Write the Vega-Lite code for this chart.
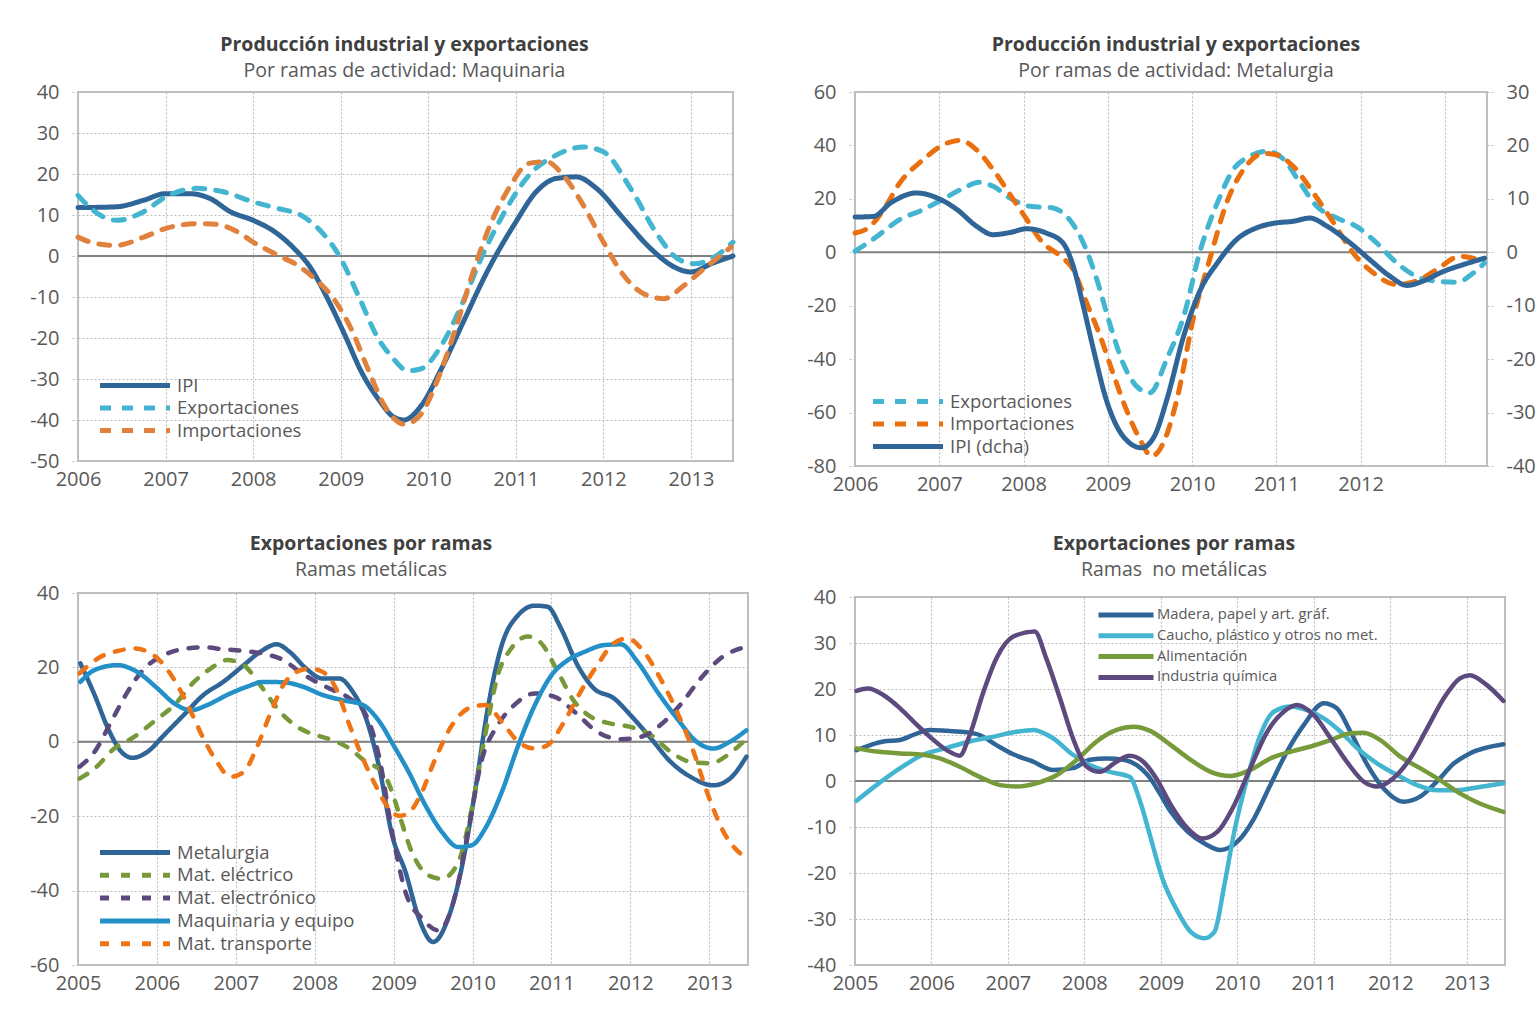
{
  "$schema": "https://vega.github.io/schema/vega-lite/v6.json",
  "background": "white",
  "padding": {"left": 28, "top": 34, "right": 5, "bottom": 5},
  "config": {
    "font": "Open Sans",
    "locale": {"number": {"decimal": ".", "thousands": ",", "grouping": [3], "currency": ["$", ""], "minus": "-"}},
    "view": {"stroke": "#bfbfbf", "strokeWidth": 2},
    "axis": {"labelFont": "Open Sans", "labelFontSize": 20, "labelColor": "#595959", "domain": false, "grid": true, "gridColor": "#bdbdbd", "gridDash": [2, 2], "gridWidth": 1.2, "tickColor": "#bdbdbd", "tickDash": [2, 2], "tickWidth": 1.2},
    "axisX": {"ticks": false, "labelPadding": 8, "labelFlush": false, "labelOverlap": false, "labelDx": 3},
    "axisY": {"tickSize": 6, "labelPadding": 13, "labelOverlap": false},
    "title": {"font": "Open Sans", "fontSize": 19.5, "fontWeight": "bold", "color": "#404040", "subtitleFont": "Open Sans", "subtitleFontSize": 19.5, "subtitleColor": "#595959", "subtitlePadding": 6, "anchor": "middle", "offset": 1},
    "legend": {"labelFont": "Open Sans", "labelColor": "#595959", "padding": 0, "labelLimit": 500},
    "line": {"interpolate": "monotone", "strokeWidth": 5, "strokeCap": "round"}
  },
  "datasets": {
    "p1": [
      {"s":"IPI","t":2006.0,"v":11.8},{"s":"IPI","t":2006.44,"v":12.0},{"s":"IPI","t":2006.75,"v":13.6},{"s":"IPI","t":2007.0,"v":15.2},{"s":"IPI","t":2007.28,"v":15.2},{"s":"IPI","t":2007.51,"v":14.0},{"s":"IPI","t":2007.74,"v":10.8},{"s":"IPI","t":2008.0,"v":8.7},{"s":"IPI","t":2008.24,"v":6.0},{"s":"IPI","t":2008.47,"v":1.8},{"s":"IPI","t":2008.66,"v":-3.0},{"s":"IPI","t":2008.85,"v":-10.4},{"s":"IPI","t":2009.05,"v":-19.4},{"s":"IPI","t":2009.24,"v":-28.4},{"s":"IPI","t":2009.43,"v":-34.9},{"s":"IPI","t":2009.6,"v":-39.2},{"s":"IPI","t":2009.72,"v":-40.0},{"s":"IPI","t":2009.92,"v":-36.5},{"s":"IPI","t":2010.15,"v":-27.5},{"s":"IPI","t":2010.38,"v":-17.0},{"s":"IPI","t":2010.69,"v":-3.1},{"s":"IPI","t":2011.0,"v":8.3},{"s":"IPI","t":2011.23,"v":15.6},{"s":"IPI","t":2011.46,"v":18.9},{"s":"IPI","t":2011.69,"v":19.3},{"s":"IPI","t":2011.92,"v":16.5},{"s":"IPI","t":2012.23,"v":9.1},{"s":"IPI","t":2012.54,"v":1.8},{"s":"IPI","t":2012.81,"v":-2.7},{"s":"IPI","t":2013.0,"v":-3.9},{"s":"IPI","t":2013.23,"v":-1.9},{"s":"IPI","t":2013.48,"v":0.0},
      {"s":"Exportaciones","t":2006.0,"v":14.8},{"s":"Exportaciones","t":2006.17,"v":11.2},{"s":"Exportaciones","t":2006.44,"v":8.7},{"s":"Exportaciones","t":2006.75,"v":10.8},{"s":"Exportaciones","t":2007.0,"v":14.4},{"s":"Exportaciones","t":2007.36,"v":16.5},{"s":"Exportaciones","t":2007.67,"v":15.6},{"s":"Exportaciones","t":2008.0,"v":13.2},{"s":"Exportaciones","t":2008.28,"v":11.6},{"s":"Exportaciones","t":2008.55,"v":9.9},{"s":"Exportaciones","t":2008.78,"v":5.9},{"s":"Exportaciones","t":2008.99,"v":-0.2},{"s":"Exportaciones","t":2009.2,"v":-9.6},{"s":"Exportaciones","t":2009.43,"v":-20.2},{"s":"Exportaciones","t":2009.58,"v":-24.5},{"s":"Exportaciones","t":2009.77,"v":-28.0},{"s":"Exportaciones","t":2009.92,"v":-27.5},{"s":"Exportaciones","t":2010.15,"v":-21.8},{"s":"Exportaciones","t":2010.38,"v":-12.0},{"s":"Exportaciones","t":2010.62,"v":0.2},{"s":"Exportaciones","t":2010.85,"v":9.9},{"s":"Exportaciones","t":2011.15,"v":19.7},{"s":"Exportaciones","t":2011.46,"v":24.6},{"s":"Exportaciones","t":2011.77,"v":26.6},{"s":"Exportaciones","t":2012.0,"v":25.4},{"s":"Exportaciones","t":2012.31,"v":16.5},{"s":"Exportaciones","t":2012.62,"v":5.1},{"s":"Exportaciones","t":2012.85,"v":-0.7},{"s":"Exportaciones","t":2013.04,"v":-1.9},{"s":"Exportaciones","t":2013.27,"v":-0.2},{"s":"Exportaciones","t":2013.48,"v":3.4},
      {"s":"Importaciones","t":2006.0,"v":4.6},{"s":"Importaciones","t":2006.21,"v":3.0},{"s":"Importaciones","t":2006.44,"v":2.6},{"s":"Importaciones","t":2006.75,"v":4.6},{"s":"Importaciones","t":2007.0,"v":6.7},{"s":"Importaciones","t":2007.36,"v":7.9},{"s":"Importaciones","t":2007.59,"v":7.7},{"s":"Importaciones","t":2007.82,"v":5.9},{"s":"Importaciones","t":2008.0,"v":3.4},{"s":"Importaciones","t":2008.28,"v":0.2},{"s":"Importaciones","t":2008.51,"v":-2.3},{"s":"Importaciones","t":2008.7,"v":-5.5},{"s":"Importaciones","t":2008.89,"v":-9.6},{"s":"Importaciones","t":2009.12,"v":-17.8},{"s":"Importaciones","t":2009.31,"v":-27.5},{"s":"Importaciones","t":2009.5,"v":-36.5},{"s":"Importaciones","t":2009.73,"v":-41.0},{"s":"Importaciones","t":2009.92,"v":-38.5},{"s":"Importaciones","t":2010.08,"v":-31.6},{"s":"Importaciones","t":2010.31,"v":-17.8},{"s":"Importaciones","t":2010.5,"v":-4.7},{"s":"Importaciones","t":2010.69,"v":6.7},{"s":"Importaciones","t":2010.92,"v":16.5},{"s":"Importaciones","t":2011.15,"v":22.6},{"s":"Importaciones","t":2011.35,"v":23.0},{"s":"Importaciones","t":2011.54,"v":19.7},{"s":"Importaciones","t":2011.77,"v":12.4},{"s":"Importaciones","t":2012.0,"v":3.4},{"s":"Importaciones","t":2012.23,"v":-4.7},{"s":"Importaciones","t":2012.46,"v":-9.2},{"s":"Importaciones","t":2012.69,"v":-10.4},{"s":"Importaciones","t":2012.92,"v":-7.2},{"s":"Importaciones","t":2013.15,"v":-3.1},{"s":"Importaciones","t":2013.46,"v":2.2}
    ],
    "p2L": [
      {"s":"Exportaciones","t":2006.0,"v":0.4},{"s":"Exportaciones","t":2006.22,"v":5.0},{"s":"Exportaciones","t":2006.53,"v":12.2},{"s":"Exportaciones","t":2006.81,"v":16.0},{"s":"Exportaciones","t":2007.0,"v":19.1},{"s":"Exportaciones","t":2007.25,"v":23.4},{"s":"Exportaciones","t":2007.48,"v":26.2},{"s":"Exportaciones","t":2007.64,"v":24.7},{"s":"Exportaciones","t":2007.84,"v":20.3},{"s":"Exportaciones","t":2008.08,"v":17.2},{"s":"Exportaciones","t":2008.35,"v":16.6},{"s":"Exportaciones","t":2008.51,"v":13.5},{"s":"Exportaciones","t":2008.71,"v":3.5},{"s":"Exportaciones","t":2008.87,"v":-10.2},{"s":"Exportaciones","t":2009.02,"v":-26.4},{"s":"Exportaciones","t":2009.18,"v":-41.4},{"s":"Exportaciones","t":2009.34,"v":-50.1},{"s":"Exportaciones","t":2009.5,"v":-52.6},{"s":"Exportaciones","t":2009.7,"v":-40.0},{"s":"Exportaciones","t":2009.9,"v":-24.0},{"s":"Exportaciones","t":2010.1,"v":1.0},{"s":"Exportaciones","t":2010.3,"v":18.5},{"s":"Exportaciones","t":2010.49,"v":31.0},{"s":"Exportaciones","t":2010.69,"v":36.0},{"s":"Exportaciones","t":2010.89,"v":37.8},{"s":"Exportaciones","t":2011.09,"v":34.7},{"s":"Exportaciones","t":2011.28,"v":26.0},{"s":"Exportaciones","t":2011.48,"v":17.2},{"s":"Exportaciones","t":2011.72,"v":12.8},{"s":"Exportaciones","t":2011.95,"v":9.7},{"s":"Exportaciones","t":2012.19,"v":3.5},{"s":"Exportaciones","t":2012.43,"v":-4.0},{"s":"Exportaciones","t":2012.66,"v":-9.0},{"s":"Exportaciones","t":2012.9,"v":-10.8},{"s":"Exportaciones","t":2013.14,"v":-11.2},{"s":"Exportaciones","t":2013.34,"v":-7.7},{"s":"Exportaciones","t":2013.47,"v":-4.0},
      {"s":"Importaciones","t":2006.0,"v":7.2},{"s":"Importaciones","t":2006.18,"v":9.7},{"s":"Importaciones","t":2006.34,"v":16.0},{"s":"Importaciones","t":2006.53,"v":25.9},{"s":"Importaciones","t":2006.81,"v":34.7},{"s":"Importaciones","t":2007.05,"v":40.3},{"s":"Importaciones","t":2007.25,"v":41.9},{"s":"Importaciones","t":2007.44,"v":38.4},{"s":"Importaciones","t":2007.64,"v":30.9},{"s":"Importaciones","t":2007.84,"v":21.6},{"s":"Importaciones","t":2008.04,"v":12.2},{"s":"Importaciones","t":2008.23,"v":3.5},{"s":"Importaciones","t":2008.43,"v":-1.2},{"s":"Importaciones","t":2008.59,"v":-6.5},{"s":"Importaciones","t":2008.75,"v":-19.0},{"s":"Importaciones","t":2008.91,"v":-31.4},{"s":"Importaciones","t":2009.06,"v":-45.1},{"s":"Importaciones","t":2009.22,"v":-58.9},{"s":"Importaciones","t":2009.38,"v":-70.0},{"s":"Importaciones","t":2009.52,"v":-76.3},{"s":"Importaciones","t":2009.66,"v":-71.3},{"s":"Importaciones","t":2009.82,"v":-55.1},{"s":"Importaciones","t":2010.02,"v":-24.0},{"s":"Importaciones","t":2010.22,"v":-1.5},{"s":"Importaciones","t":2010.41,"v":18.5},{"s":"Importaciones","t":2010.61,"v":31.0},{"s":"Importaciones","t":2010.85,"v":37.0},{"s":"Importaciones","t":2011.0,"v":36.5},{"s":"Importaciones","t":2011.2,"v":32.2},{"s":"Importaciones","t":2011.44,"v":22.2},{"s":"Importaciones","t":2011.68,"v":11.0},{"s":"Importaciones","t":2011.91,"v":-0.2},{"s":"Importaciones","t":2012.15,"v":-7.7},{"s":"Importaciones","t":2012.43,"v":-12.1},{"s":"Importaciones","t":2012.66,"v":-10.8},{"s":"Importaciones","t":2012.9,"v":-6.5},{"s":"Importaciones","t":2013.18,"v":-1.5},{"s":"Importaciones","t":2013.47,"v":-3.4}
    ],
    "p2R": [
      {"s":"IPI (dcha)","t":2006.0,"v":6.6},{"s":"IPI (dcha)","t":2006.22,"v":6.7},{"s":"IPI (dcha)","t":2006.42,"v":9.2},{"s":"IPI (dcha)","t":2006.73,"v":11.1},{"s":"IPI (dcha)","t":2006.97,"v":10.2},{"s":"IPI (dcha)","t":2007.21,"v":8.0},{"s":"IPI (dcha)","t":2007.44,"v":4.9},{"s":"IPI (dcha)","t":2007.64,"v":3.3},{"s":"IPI (dcha)","t":2007.84,"v":3.7},{"s":"IPI (dcha)","t":2008.04,"v":4.4},{"s":"IPI (dcha)","t":2008.27,"v":3.6},{"s":"IPI (dcha)","t":2008.47,"v":1.7},{"s":"IPI (dcha)","t":2008.59,"v":-2.6},{"s":"IPI (dcha)","t":2008.71,"v":-10.1},{"s":"IPI (dcha)","t":2008.83,"v":-18.2},{"s":"IPI (dcha)","t":2008.98,"v":-27.5},{"s":"IPI (dcha)","t":2009.18,"v":-34.4},{"s":"IPI (dcha)","t":2009.4,"v":-36.6},{"s":"IPI (dcha)","t":2009.55,"v":-34.5},{"s":"IPI (dcha)","t":2009.7,"v":-27.6},{"s":"IPI (dcha)","t":2009.9,"v":-15.7},{"s":"IPI (dcha)","t":2010.1,"v":-7.0},{"s":"IPI (dcha)","t":2010.3,"v":-2.0},{"s":"IPI (dcha)","t":2010.53,"v":2.4},{"s":"IPI (dcha)","t":2010.77,"v":4.6},{"s":"IPI (dcha)","t":2011.0,"v":5.5},{"s":"IPI (dcha)","t":2011.2,"v":5.8},{"s":"IPI (dcha)","t":2011.4,"v":6.4},{"s":"IPI (dcha)","t":2011.6,"v":4.9},{"s":"IPI (dcha)","t":2011.88,"v":1.7},{"s":"IPI (dcha)","t":2012.11,"v":-1.4},{"s":"IPI (dcha)","t":2012.35,"v":-4.5},{"s":"IPI (dcha)","t":2012.55,"v":-6.2},{"s":"IPI (dcha)","t":2012.74,"v":-5.4},{"s":"IPI (dcha)","t":2012.98,"v":-3.6},{"s":"IPI (dcha)","t":2013.22,"v":-2.3},{"s":"IPI (dcha)","t":2013.47,"v":-1.1}
    ],
    "p3": [
      {"s":"Metalurgia","t":2005.03,"v":21.1},{"s":"Metalurgia","t":2005.21,"v":12.6},{"s":"Metalurgia","t":2005.38,"v":3.6},{"s":"Metalurgia","t":2005.55,"v":-2.7},{"s":"Metalurgia","t":2005.69,"v":-4.3},{"s":"Metalurgia","t":2005.88,"v":-2.7},{"s":"Metalurgia","t":2006.09,"v":1.8},{"s":"Metalurgia","t":2006.34,"v":7.2},{"s":"Metalurgia","t":2006.59,"v":12.6},{"s":"Metalurgia","t":2006.84,"v":16.1},{"s":"Metalurgia","t":2007.1,"v":20.6},{"s":"Metalurgia","t":2007.31,"v":24.2},{"s":"Metalurgia","t":2007.52,"v":26.2},{"s":"Metalurgia","t":2007.68,"v":24.2},{"s":"Metalurgia","t":2007.89,"v":19.7},{"s":"Metalurgia","t":2008.1,"v":17.0},{"s":"Metalurgia","t":2008.31,"v":17.0},{"s":"Metalurgia","t":2008.48,"v":13.5},{"s":"Metalurgia","t":2008.65,"v":6.3},{"s":"Metalurgia","t":2008.82,"v":-7.2},{"s":"Metalurgia","t":2008.98,"v":-25.1},{"s":"Metalurgia","t":2009.15,"v":-35.0},{"s":"Metalurgia","t":2009.32,"v":-47.5},{"s":"Metalurgia","t":2009.5,"v":-53.8},{"s":"Metalurgia","t":2009.69,"v":-47.5},{"s":"Metalurgia","t":2009.86,"v":-34.1},{"s":"Metalurgia","t":2010.03,"v":-13.5},{"s":"Metalurgia","t":2010.2,"v":9.9},{"s":"Metalurgia","t":2010.37,"v":26.0},{"s":"Metalurgia","t":2010.58,"v":34.1},{"s":"Metalurgia","t":2010.79,"v":36.6},{"s":"Metalurgia","t":2010.95,"v":36.3},{"s":"Metalurgia","t":2011.12,"v":30.5},{"s":"Metalurgia","t":2011.33,"v":20.6},{"s":"Metalurgia","t":2011.54,"v":14.3},{"s":"Metalurgia","t":2011.79,"v":11.7},{"s":"Metalurgia","t":2012.0,"v":7.2},{"s":"Metalurgia","t":2012.26,"v":0.9},{"s":"Metalurgia","t":2012.51,"v":-5.4},{"s":"Metalurgia","t":2012.76,"v":-9.4},{"s":"Metalurgia","t":2013.05,"v":-11.7},{"s":"Metalurgia","t":2013.26,"v":-9.9},{"s":"Metalurgia","t":2013.47,"v":-4.0},
      {"s":"Mat. eléctrico","t":2005.02,"v":-9.9},{"s":"Mat. eléctrico","t":2005.21,"v":-7.2},{"s":"Mat. eléctrico","t":2005.46,"v":-1.8},{"s":"Mat. eléctrico","t":2005.71,"v":1.3},{"s":"Mat. eléctrico","t":2005.96,"v":5.4},{"s":"Mat. eléctrico","t":2006.22,"v":9.9},{"s":"Mat. eléctrico","t":2006.47,"v":16.1},{"s":"Mat. eléctrico","t":2006.68,"v":19.7},{"s":"Mat. eléctrico","t":2006.89,"v":22.0},{"s":"Mat. eléctrico","t":2007.1,"v":20.6},{"s":"Mat. eléctrico","t":2007.31,"v":15.2},{"s":"Mat. eléctrico","t":2007.56,"v":8.1},{"s":"Mat. eléctrico","t":2007.81,"v":3.6},{"s":"Mat. eléctrico","t":2008.02,"v":1.8},{"s":"Mat. eléctrico","t":2008.23,"v":0.4},{"s":"Mat. eléctrico","t":2008.44,"v":-1.8},{"s":"Mat. eléctrico","t":2008.65,"v":-5.4},{"s":"Mat. eléctrico","t":2008.86,"v":-8.1},{"s":"Mat. eléctrico","t":2008.98,"v":-13.5},{"s":"Mat. eléctrico","t":2009.06,"v":-18.8},{"s":"Mat. eléctrico","t":2009.23,"v":-29.6},{"s":"Mat. eléctrico","t":2009.44,"v":-35.9},{"s":"Mat. eléctrico","t":2009.61,"v":-36.8},{"s":"Mat. eléctrico","t":2009.82,"v":-32.3},{"s":"Mat. eléctrico","t":2009.99,"v":-17.9},{"s":"Mat. eléctrico","t":2010.16,"v":1.8},{"s":"Mat. eléctrico","t":2010.32,"v":17.9},{"s":"Mat. eléctrico","t":2010.49,"v":25.1},{"s":"Mat. eléctrico","t":2010.7,"v":28.3},{"s":"Mat. eléctrico","t":2010.87,"v":26.5},{"s":"Mat. eléctrico","t":2011.08,"v":18.8},{"s":"Mat. eléctrico","t":2011.29,"v":10.8},{"s":"Mat. eléctrico","t":2011.5,"v":6.7},{"s":"Mat. eléctrico","t":2011.75,"v":4.9},{"s":"Mat. eléctrico","t":2012.0,"v":4.0},{"s":"Mat. eléctrico","t":2012.26,"v":1.8},{"s":"Mat. eléctrico","t":2012.51,"v":-2.7},{"s":"Mat. eléctrico","t":2012.76,"v":-5.4},{"s":"Mat. eléctrico","t":2013.01,"v":-5.8},{"s":"Mat. eléctrico","t":2013.26,"v":-3.1},{"s":"Mat. eléctrico","t":2013.43,"v":0.0},
      {"s":"Mat. electrónico","t":2005.02,"v":-6.7},{"s":"Mat. electrónico","t":2005.21,"v":-2.7},{"s":"Mat. electrónico","t":2005.42,"v":5.4},{"s":"Mat. electrónico","t":2005.63,"v":13.5},{"s":"Mat. electrónico","t":2005.84,"v":19.7},{"s":"Mat. electrónico","t":2006.05,"v":22.9},{"s":"Mat. electrónico","t":2006.3,"v":24.8},{"s":"Mat. electrónico","t":2006.59,"v":25.4},{"s":"Mat. electrónico","t":2006.84,"v":24.9},{"s":"Mat. electrónico","t":2007.1,"v":24.4},{"s":"Mat. electrónico","t":2007.39,"v":23.5},{"s":"Mat. electrónico","t":2007.6,"v":22.0},{"s":"Mat. electrónico","t":2007.81,"v":18.8},{"s":"Mat. electrónico","t":2008.02,"v":16.1},{"s":"Mat. electrónico","t":2008.23,"v":13.9},{"s":"Mat. electrónico","t":2008.44,"v":11.7},{"s":"Mat. electrónico","t":2008.65,"v":7.2},{"s":"Mat. electrónico","t":2008.82,"v":-4.5},{"s":"Mat. electrónico","t":2008.98,"v":-24.2},{"s":"Mat. electrónico","t":2009.15,"v":-40.4},{"s":"Mat. electrónico","t":2009.36,"v":-47.5},{"s":"Mat. electrónico","t":2009.57,"v":-50.7},{"s":"Mat. electrónico","t":2009.78,"v":-41.3},{"s":"Mat. electrónico","t":2009.95,"v":-23.3},{"s":"Mat. electrónico","t":2010.11,"v":-5.4},{"s":"Mat. electrónico","t":2010.32,"v":4.5},{"s":"Mat. electrónico","t":2010.53,"v":9.9},{"s":"Mat. electrónico","t":2010.79,"v":13.0},{"s":"Mat. electrónico","t":2011.04,"v":12.1},{"s":"Mat. electrónico","t":2011.29,"v":8.1},{"s":"Mat. electrónico","t":2011.58,"v":2.7},{"s":"Mat. electrónico","t":2011.88,"v":0.7},{"s":"Mat. electrónico","t":2012.13,"v":1.3},{"s":"Mat. electrónico","t":2012.38,"v":4.5},{"s":"Mat. electrónico","t":2012.63,"v":9.9},{"s":"Mat. electrónico","t":2012.89,"v":17.0},{"s":"Mat. electrónico","t":2013.14,"v":22.4},{"s":"Mat. electrónico","t":2013.47,"v":25.6},
      {"s":"Maquinaria y equipo","t":2005.03,"v":16.1},{"s":"Maquinaria y equipo","t":2005.21,"v":19.3},{"s":"Maquinaria y equipo","t":2005.5,"v":20.6},{"s":"Maquinaria y equipo","t":2005.75,"v":18.8},{"s":"Maquinaria y equipo","t":2006.01,"v":14.3},{"s":"Maquinaria y equipo","t":2006.22,"v":10.3},{"s":"Maquinaria y equipo","t":2006.43,"v":8.5},{"s":"Maquinaria y equipo","t":2006.64,"v":9.9},{"s":"Maquinaria y equipo","t":2006.89,"v":12.6},{"s":"Maquinaria y equipo","t":2007.14,"v":14.8},{"s":"Maquinaria y equipo","t":2007.35,"v":16.1},{"s":"Maquinaria y equipo","t":2007.6,"v":16.0},{"s":"Maquinaria y equipo","t":2007.85,"v":14.8},{"s":"Maquinaria y equipo","t":2008.1,"v":12.6},{"s":"Maquinaria y equipo","t":2008.35,"v":11.2},{"s":"Maquinaria y equipo","t":2008.61,"v":9.9},{"s":"Maquinaria y equipo","t":2008.82,"v":5.4},{"s":"Maquinaria y equipo","t":2009.0,"v":-1.0},{"s":"Maquinaria y equipo","t":2009.19,"v":-8.1},{"s":"Maquinaria y equipo","t":2009.4,"v":-17.0},{"s":"Maquinaria y equipo","t":2009.61,"v":-24.2},{"s":"Maquinaria y equipo","t":2009.82,"v":-28.3},{"s":"Maquinaria y equipo","t":2009.99,"v":-27.8},{"s":"Maquinaria y equipo","t":2010.16,"v":-23.3},{"s":"Maquinaria y equipo","t":2010.37,"v":-13.5},{"s":"Maquinaria y equipo","t":2010.58,"v":-0.9},{"s":"Maquinaria y equipo","t":2010.79,"v":9.9},{"s":"Maquinaria y equipo","t":2011.0,"v":17.9},{"s":"Maquinaria y equipo","t":2011.21,"v":22.0},{"s":"Maquinaria y equipo","t":2011.42,"v":24.2},{"s":"Maquinaria y equipo","t":2011.67,"v":26.0},{"s":"Maquinaria y equipo","t":2011.88,"v":26.2},{"s":"Maquinaria y equipo","t":2012.09,"v":21.5},{"s":"Maquinaria y equipo","t":2012.34,"v":13.5},{"s":"Maquinaria y equipo","t":2012.59,"v":6.3},{"s":"Maquinaria y equipo","t":2012.84,"v":0.0},{"s":"Maquinaria y equipo","t":2013.05,"v":-1.8},{"s":"Maquinaria y equipo","t":2013.26,"v":0.0},{"s":"Maquinaria y equipo","t":2013.47,"v":3.1},
      {"s":"Mat. transporte","t":2005.02,"v":18.4},{"s":"Mat. transporte","t":2005.25,"v":22.4},{"s":"Mat. transporte","t":2005.5,"v":24.4},{"s":"Mat. transporte","t":2005.71,"v":25.1},{"s":"Mat. transporte","t":2005.92,"v":23.8},{"s":"Mat. transporte","t":2006.09,"v":20.6},{"s":"Mat. transporte","t":2006.26,"v":15.2},{"s":"Mat. transporte","t":2006.43,"v":8.1},{"s":"Mat. transporte","t":2006.59,"v":0.9},{"s":"Mat. transporte","t":2006.76,"v":-5.4},{"s":"Mat. transporte","t":2006.93,"v":-9.4},{"s":"Mat. transporte","t":2007.1,"v":-8.1},{"s":"Mat. transporte","t":2007.26,"v":-1.8},{"s":"Mat. transporte","t":2007.43,"v":7.2},{"s":"Mat. transporte","t":2007.6,"v":15.2},{"s":"Mat. transporte","t":2007.77,"v":18.8},{"s":"Mat. transporte","t":2007.94,"v":19.7},{"s":"Mat. transporte","t":2008.1,"v":18.8},{"s":"Mat. transporte","t":2008.27,"v":14.3},{"s":"Mat. transporte","t":2008.44,"v":4.5},{"s":"Mat. transporte","t":2008.61,"v":-4.5},{"s":"Mat. transporte","t":2008.77,"v":-11.7},{"s":"Mat. transporte","t":2008.94,"v":-17.9},{"s":"Mat. transporte","t":2009.07,"v":-19.9},{"s":"Mat. transporte","t":2009.18,"v":-19.3},{"s":"Mat. transporte","t":2009.32,"v":-15.2},{"s":"Mat. transporte","t":2009.53,"v":-4.5},{"s":"Mat. transporte","t":2009.74,"v":4.5},{"s":"Mat. transporte","t":2009.95,"v":9.0},{"s":"Mat. transporte","t":2010.16,"v":9.9},{"s":"Mat. transporte","t":2010.37,"v":5.4},{"s":"Mat. transporte","t":2010.58,"v":0.0},{"s":"Mat. transporte","t":2010.79,"v":-1.8},{"s":"Mat. transporte","t":2010.95,"v":-0.9},{"s":"Mat. transporte","t":2011.16,"v":5.4},{"s":"Mat. transporte","t":2011.37,"v":13.5},{"s":"Mat. transporte","t":2011.58,"v":20.6},{"s":"Mat. transporte","t":2011.79,"v":26.5},{"s":"Mat. transporte","t":2011.96,"v":27.8},{"s":"Mat. transporte","t":2012.17,"v":24.2},{"s":"Mat. transporte","t":2012.38,"v":17.0},{"s":"Mat. transporte","t":2012.59,"v":8.1},{"s":"Mat. transporte","t":2012.8,"v":-2.7},{"s":"Mat. transporte","t":2012.97,"v":-13.5},{"s":"Mat. transporte","t":2013.18,"v":-24.2},{"s":"Mat. transporte","t":2013.47,"v":-31.4}
    ],
    "p4": [
      {"s":"Madera, papel y art. gráf.","t":2005.02,"v":6.7},{"s":"Madera, papel y art. gráf.","t":2005.2,"v":7.8},{"s":"Madera, papel y art. gráf.","t":2005.37,"v":8.6},{"s":"Madera, papel y art. gráf.","t":2005.59,"v":8.9},{"s":"Madera, papel y art. gráf.","t":2005.76,"v":10.0},{"s":"Madera, papel y art. gráf.","t":2005.98,"v":11.1},{"s":"Madera, papel y art. gráf.","t":2006.2,"v":10.9},{"s":"Madera, papel y art. gráf.","t":2006.46,"v":10.6},{"s":"Madera, papel y art. gráf.","t":2006.63,"v":10.0},{"s":"Madera, papel y art. gráf.","t":2006.85,"v":7.8},{"s":"Madera, papel y art. gráf.","t":2007.07,"v":5.8},{"s":"Madera, papel y art. gráf.","t":2007.33,"v":4.2},{"s":"Madera, papel y art. gráf.","t":2007.59,"v":2.4},{"s":"Madera, papel y art. gráf.","t":2007.85,"v":2.8},{"s":"Madera, papel y art. gráf.","t":2008.07,"v":4.6},{"s":"Madera, papel y art. gráf.","t":2008.29,"v":4.9},{"s":"Madera, papel y art. gráf.","t":2008.51,"v":4.6},{"s":"Madera, papel y art. gráf.","t":2008.68,"v":3.5},{"s":"Madera, papel y art. gráf.","t":2008.86,"v":0.6},{"s":"Madera, papel y art. gráf.","t":2008.99,"v":-2.8},{"s":"Madera, papel y art. gráf.","t":2009.13,"v":-6.7},{"s":"Madera, papel y art. gráf.","t":2009.35,"v":-11.0},{"s":"Madera, papel y art. gráf.","t":2009.57,"v":-13.6},{"s":"Madera, papel y art. gráf.","t":2009.78,"v":-15.0},{"s":"Madera, papel y art. gráf.","t":2010.0,"v":-13.2},{"s":"Madera, papel y art. gráf.","t":2010.22,"v":-8.1},{"s":"Madera, papel y art. gráf.","t":2010.43,"v":-0.9},{"s":"Madera, papel y art. gráf.","t":2010.65,"v":6.4},{"s":"Madera, papel y art. gráf.","t":2010.87,"v":12.2},{"s":"Madera, papel y art. gráf.","t":2011.13,"v":16.9},{"s":"Madera, papel y art. gráf.","t":2011.3,"v":15.8},{"s":"Madera, papel y art. gráf.","t":2011.48,"v":10.7},{"s":"Madera, papel y art. gráf.","t":2011.7,"v":3.5},{"s":"Madera, papel y art. gráf.","t":2011.91,"v":-1.6},{"s":"Madera, papel y art. gráf.","t":2012.17,"v":-4.5},{"s":"Madera, papel y art. gráf.","t":2012.39,"v":-3.4},{"s":"Madera, papel y art. gráf.","t":2012.61,"v":-0.1},{"s":"Madera, papel y art. gráf.","t":2012.83,"v":3.8},{"s":"Madera, papel y art. gráf.","t":2013.04,"v":6.0},{"s":"Madera, papel y art. gráf.","t":2013.48,"v":8.0},
      {"s":"Caucho, plástico y otros no met.","t":2005.02,"v":-4.3},{"s":"Caucho, plástico y otros no met.","t":2005.28,"v":-0.9},{"s":"Caucho, plástico y otros no met.","t":2005.59,"v":2.8},{"s":"Caucho, plástico y otros no met.","t":2005.89,"v":5.7},{"s":"Caucho, plástico y otros no met.","t":2006.2,"v":7.2},{"s":"Caucho, plástico y otros no met.","t":2006.5,"v":8.6},{"s":"Caucho, plástico y otros no met.","t":2006.8,"v":9.6},{"s":"Caucho, plástico y otros no met.","t":2007.11,"v":10.7},{"s":"Caucho, plástico y otros no met.","t":2007.33,"v":11.1},{"s":"Caucho, plástico y otros no met.","t":2007.59,"v":9.3},{"s":"Caucho, plástico y otros no met.","t":2007.85,"v":5.7},{"s":"Caucho, plástico y otros no met.","t":2008.07,"v":3.5},{"s":"Caucho, plástico y otros no met.","t":2008.33,"v":2.0},{"s":"Caucho, plástico y otros no met.","t":2008.59,"v":0.9},{"s":"Caucho, plástico y otros no met.","t":2008.73,"v":-4.5},{"s":"Caucho, plástico y otros no met.","t":2008.86,"v":-12.0},{"s":"Caucho, plástico y otros no met.","t":2009.02,"v":-21.2},{"s":"Caucho, plástico y otros no met.","t":2009.22,"v":-28.4},{"s":"Caucho, plástico y otros no met.","t":2009.39,"v":-32.8},{"s":"Caucho, plástico y otros no met.","t":2009.57,"v":-34.2},{"s":"Caucho, plástico y otros no met.","t":2009.7,"v":-32.8},{"s":"Caucho, plástico y otros no met.","t":2009.83,"v":-22.6},{"s":"Caucho, plástico y otros no met.","t":2009.96,"v":-11.0},{"s":"Caucho, plástico y otros no met.","t":2010.13,"v":0.6},{"s":"Caucho, plástico y otros no met.","t":2010.3,"v":10.0},{"s":"Caucho, plástico y otros no met.","t":2010.48,"v":15.1},{"s":"Caucho, plástico y otros no met.","t":2010.7,"v":16.2},{"s":"Caucho, plástico y otros no met.","t":2010.91,"v":15.4},{"s":"Caucho, plástico y otros no met.","t":2011.13,"v":13.6},{"s":"Caucho, plástico y otros no met.","t":2011.35,"v":10.7},{"s":"Caucho, plástico y otros no met.","t":2011.57,"v":7.1},{"s":"Caucho, plástico y otros no met.","t":2011.83,"v":3.8},{"s":"Caucho, plástico y otros no met.","t":2012.09,"v":1.3},{"s":"Caucho, plástico y otros no met.","t":2012.35,"v":-0.9},{"s":"Caucho, plástico y otros no met.","t":2012.61,"v":-2.0},{"s":"Caucho, plástico y otros no met.","t":2012.87,"v":-2.0},{"s":"Caucho, plástico y otros no met.","t":2013.13,"v":-1.4},{"s":"Caucho, plástico y otros no met.","t":2013.48,"v":-0.5},
      {"s":"Alimentación","t":2005.02,"v":7.1},{"s":"Alimentación","t":2005.28,"v":6.4},{"s":"Alimentación","t":2005.59,"v":6.0},{"s":"Alimentación","t":2005.89,"v":5.7},{"s":"Alimentación","t":2006.11,"v":4.9},{"s":"Alimentación","t":2006.37,"v":3.1},{"s":"Alimentación","t":2006.63,"v":0.9},{"s":"Alimentación","t":2006.9,"v":-0.9},{"s":"Alimentación","t":2007.11,"v":-1.2},{"s":"Alimentación","t":2007.37,"v":-0.5},{"s":"Alimentación","t":2007.64,"v":1.3},{"s":"Alimentación","t":2007.9,"v":4.6},{"s":"Alimentación","t":2008.16,"v":8.6},{"s":"Alimentación","t":2008.42,"v":11.1},{"s":"Alimentación","t":2008.64,"v":11.8},{"s":"Alimentación","t":2008.86,"v":10.9},{"s":"Alimentación","t":2009.13,"v":7.8},{"s":"Alimentación","t":2009.39,"v":4.6},{"s":"Alimentación","t":2009.65,"v":2.0},{"s":"Alimentación","t":2009.91,"v":1.1},{"s":"Alimentación","t":2010.17,"v":2.4},{"s":"Alimentación","t":2010.43,"v":4.9},{"s":"Alimentación","t":2010.7,"v":6.4},{"s":"Alimentación","t":2010.96,"v":7.5},{"s":"Alimentación","t":2011.22,"v":8.9},{"s":"Alimentación","t":2011.48,"v":10.4},{"s":"Alimentación","t":2011.65,"v":10.5},{"s":"Alimentación","t":2011.87,"v":8.9},{"s":"Alimentación","t":2012.13,"v":5.3},{"s":"Alimentación","t":2012.39,"v":2.8},{"s":"Alimentación","t":2012.65,"v":0.2},{"s":"Alimentación","t":2012.91,"v":-2.7},{"s":"Alimentación","t":2013.17,"v":-4.9},{"s":"Alimentación","t":2013.48,"v":-6.7},
      {"s":"Industria química","t":2005.02,"v":19.6},{"s":"Industria química","t":2005.17,"v":20.1},{"s":"Industria química","t":2005.37,"v":18.7},{"s":"Industria química","t":2005.59,"v":15.8},{"s":"Industria química","t":2005.81,"v":12.2},{"s":"Industria química","t":2005.98,"v":9.6},{"s":"Industria química","t":2006.2,"v":6.7},{"s":"Industria química","t":2006.37,"v":5.5},{"s":"Industria química","t":2006.5,"v":10.0},{"s":"Industria química","t":2006.68,"v":19.4},{"s":"Industria química","t":2006.85,"v":26.7},{"s":"Industria química","t":2007.07,"v":31.4},{"s":"Industria química","t":2007.35,"v":32.5},{"s":"Industria química","t":2007.5,"v":26.7},{"s":"Industria química","t":2007.68,"v":18.0},{"s":"Industria química","t":2007.85,"v":9.3},{"s":"Industria química","t":2008.03,"v":3.1},{"s":"Industria química","t":2008.2,"v":2.0},{"s":"Industria química","t":2008.42,"v":4.2},{"s":"Industria química","t":2008.59,"v":5.5},{"s":"Industria química","t":2008.77,"v":4.2},{"s":"Industria química","t":2008.95,"v":0.3},{"s":"Industria química","t":2009.13,"v":-5.2},{"s":"Industria química","t":2009.35,"v":-10.3},{"s":"Industria química","t":2009.54,"v":-12.5},{"s":"Industria química","t":2009.74,"v":-11.0},{"s":"Industria química","t":2009.96,"v":-5.2},{"s":"Industria química","t":2010.17,"v":2.8},{"s":"Industria química","t":2010.39,"v":10.7},{"s":"Industria química","t":2010.61,"v":15.1},{"s":"Industria química","t":2010.78,"v":16.5},{"s":"Industria química","t":2011.0,"v":14.3},{"s":"Industria química","t":2011.22,"v":9.3},{"s":"Industria química","t":2011.43,"v":4.2},{"s":"Industria química","t":2011.65,"v":-0.1},{"s":"Industria química","t":2011.83,"v":-1.2},{"s":"Industria química","t":2012.04,"v":0.6},{"s":"Industria química","t":2012.26,"v":4.9},{"s":"Industria química","t":2012.48,"v":11.4},{"s":"Industria química","t":2012.7,"v":18.0},{"s":"Industria química","t":2012.91,"v":22.3},{"s":"Industria química","t":2013.04,"v":23.0},{"s":"Industria química","t":2013.26,"v":20.9},{"s":"Industria química","t":2013.48,"v":17.4}
    ]
  },
  "spacing": 48,
  "resolve": {"scale": {"color": "independent", "strokeDash": "independent"}, "legend": {"color": "independent", "strokeDash": "independent"}},
  "hconcat": [
    {
      "spacing": 43,
      "resolve": {"scale": {"color": "independent", "strokeDash": "independent"}, "legend": {"color": "independent", "strokeDash": "independent"}},
      "vconcat": [
        {
          "width": 655, "height": 369,
          "title": {"text": "Producción industrial y exportaciones", "subtitle": "Por ramas de actividad: Maquinaria", "dx": -1},
          "layer": [
            {"data": {"values": [{}]}, "mark": {"type": "rule", "color": "#808080", "strokeWidth": 2}, "encoding": {"y": {"datum": 0, "type": "quantitative", "scale": {"domain": [-50, 40], "nice": false}}}},
            {"data": {"name": "p1"}, "mark": {"type": "line"},
             "encoding": {
               "x": {"field": "t", "type": "quantitative", "title": null, "scale": {"domain": [2006, 2013.48], "nice": false, "zero": false}, "axis": {"values": [2006, 2007, 2008, 2009, 2010, 2011, 2012, 2013], "format": "d"}},
               "y": {"field": "v", "type": "quantitative", "title": null, "scale": {"domain": [-50, 40], "nice": false}, "axis": {"values": [-50, -40, -30, -20, -10, 0, 10, 20, 30, 40]}},
               "color": {"field": "s", "type": "nominal", "scale": {"domain": ["IPI", "Exportaciones", "Importaciones"], "range": ["#2f6597", "#43b5d1", "#e0823c"]},
                 "legend": {"title": null, "orient": "none", "legendX": 47.5, "legendY": 284, "symbolType": "M-5,0H5", "symbolSize": 196, "symbolStrokeWidth": 5, "labelFontSize": 18.5, "labelOffset": 32.5, "rowPadding": 1.5}},
               "strokeDash": {"field": "s", "type": "nominal", "scale": {"domain": ["IPI", "Exportaciones", "Importaciones"], "range": [[1, 0], [11, 11], [11, 11]]},
                 "legend": {"title": null, "orient": "none", "legendX": 47.5, "legendY": 284, "symbolType": "M-5,0H5", "symbolSize": 196, "symbolStrokeWidth": 5, "labelFontSize": 18.5, "labelOffset": 32.5, "rowPadding": 1.5}}
             }}
          ]
        },
        {
          "width": 670, "height": 372,
          "title": {"text": "Exportaciones por ramas", "subtitle": "Ramas metálicas", "dx": -42, "offset": 3},
          "layer": [
            {"data": {"values": [{}]}, "mark": {"type": "rule", "color": "#808080", "strokeWidth": 2}, "encoding": {"y": {"datum": 0, "type": "quantitative", "scale": {"domain": [-60, 40], "nice": false}}}},
            {"data": {"name": "p3"}, "mark": {"type": "line", "strokeWidth": 4.5},
             "encoding": {
               "x": {"field": "t", "type": "quantitative", "title": null, "scale": {"domain": [2005, 2013.49], "nice": false, "zero": false}, "axis": {"values": [2005, 2006, 2007, 2008, 2009, 2010, 2011, 2012, 2013], "format": "d"}},
               "y": {"field": "v", "type": "quantitative", "title": null, "scale": {"domain": [-60, 40], "nice": false}, "axis": {"values": [-60, -40, -20, 0, 20, 40]}},
               "color": {"field": "s", "type": "nominal", "scale": {"domain": ["Metalurgia", "Mat. eléctrico", "Mat. electrónico", "Maquinaria y equipo", "Mat. transporte"], "range": ["#2f6597", "#77993a", "#5c4a7e", "#2490c8", "#ee7416"]},
                 "legend": {"title": null, "orient": "none", "legendX": 47.5, "legendY": 250, "symbolType": "M-5,0H5", "symbolSize": 196, "symbolStrokeWidth": 5, "labelFontSize": 18.5, "labelOffset": 32.5, "rowPadding": 1.8}},
               "strokeDash": {"field": "s", "type": "nominal", "scale": {"domain": ["Metalurgia", "Mat. eléctrico", "Mat. electrónico", "Maquinaria y equipo", "Mat. transporte"], "range": [[1, 0], [9, 12], [9, 12], [1, 0], [9, 12]]},
                 "legend": {"title": null, "orient": "none", "legendX": 47.5, "legendY": 250, "symbolType": "M-5,0H5", "symbolSize": 196, "symbolStrokeWidth": 5, "labelFontSize": 18.5, "labelOffset": 32.5, "rowPadding": 1.8}}
             }}
          ]
        }
      ]
    },
    {
      "spacing": 38,
      "resolve": {"scale": {"color": "independent", "strokeDash": "independent"}, "legend": {"color": "independent", "strokeDash": "independent"}},
      "vconcat": [
        {
          "width": 632, "height": 374,
          "title": {"text": "Producción industrial y exportaciones", "subtitle": "Por ramas de actividad: Metalurgia", "dx": 5},
          "resolve": {"scale": {"y": "independent"}},
          "layer": [
            {"data": {"values": [{}]}, "mark": {"type": "rule", "color": "#808080", "strokeWidth": 2}, "encoding": {"y": {"datum": 0, "type": "quantitative", "scale": {"domain": [-80, 60], "nice": false}, "axis": null}}},
            {"data": {"name": "p2L"}, "mark": {"type": "line"},
             "encoding": {
               "x": {"field": "t", "type": "quantitative", "title": null, "scale": {"domain": [2006, 2013.5], "nice": false, "zero": false}, "axis": {"values": [2006, 2007, 2008, 2009, 2010, 2011, 2012, 2013], "format": "d", "labelExpr": "datum.value == 2013 ? '' : datum.label"}},
               "y": {"field": "v", "type": "quantitative", "title": null, "scale": {"domain": [-80, 60], "nice": false}, "axis": {"orient": "left", "values": [-80, -60, -40, -20, 0, 20, 40, 60]}},
               "color": {"field": "s", "type": "nominal", "scale": {"domain": ["Exportaciones", "Importaciones", "IPI (dcha)"], "range": ["#43b5d1", "#ea700f", "#2f6597"]},
                 "legend": {"title": null, "orient": "none", "legendX": 43.5, "legendY": 300, "symbolType": "M-5,0H5", "symbolSize": 196, "symbolStrokeWidth": 5, "labelFontSize": 18.5, "labelOffset": 32.5, "rowPadding": 1.5}},
               "strokeDash": {"field": "s", "type": "nominal", "scale": {"domain": ["Exportaciones", "Importaciones", "IPI (dcha)"], "range": [[11, 11], [11, 11], [1, 0]]},
                 "legend": {"title": null, "orient": "none", "legendX": 43.5, "legendY": 300, "symbolType": "M-5,0H5", "symbolSize": 196, "symbolStrokeWidth": 5, "labelFontSize": 18.5, "labelOffset": 32.5, "rowPadding": 1.5}}
             }},
            {"data": {"name": "p2R"}, "mark": {"type": "line"},
             "encoding": {
               "x": {"field": "t", "type": "quantitative", "title": null, "scale": {"domain": [2006, 2013.5], "nice": false, "zero": false}, "axis": {"values": [2006, 2007, 2008, 2009, 2010, 2011, 2012, 2013], "format": "d", "labelExpr": "datum.value == 2013 ? '' : datum.label"}},
               "y": {"field": "v", "type": "quantitative", "title": null, "scale": {"domain": [-40, 30], "nice": false}, "axis": {"orient": "right", "grid": false, "values": [-40, -30, -20, -10, 0, 10, 20, 30]}},
               "color": {"field": "s", "type": "nominal", "scale": {"domain": ["Exportaciones", "Importaciones", "IPI (dcha)"], "range": ["#43b5d1", "#ea700f", "#2f6597"]},
                 "legend": {"title": null, "orient": "none", "legendX": 43.5, "legendY": 300, "symbolType": "M-5,0H5", "symbolSize": 196, "symbolStrokeWidth": 5, "labelFontSize": 18.5, "labelOffset": 32.5, "rowPadding": 1.5}},
               "strokeDash": {"field": "s", "type": "nominal", "scale": {"domain": ["Exportaciones", "Importaciones", "IPI (dcha)"], "range": [[11, 11], [11, 11], [1, 0]]},
                 "legend": {"title": null, "orient": "none", "legendX": 43.5, "legendY": 300, "symbolType": "M-5,0H5", "symbolSize": 196, "symbolStrokeWidth": 5, "labelFontSize": 18.5, "labelOffset": 32.5, "rowPadding": 1.5}}
             }}
          ]
        },
        {
          "width": 650, "height": 368,
          "title": {"text": "Exportaciones por ramas", "subtitle": "Ramas\u00a0 no metálicas", "dx": -6, "offset": 7},
          "layer": [
            {"data": {"values": [{}]}, "mark": {"type": "rule", "color": "#808080", "strokeWidth": 2}, "encoding": {"y": {"datum": 0, "type": "quantitative", "scale": {"domain": [-40, 40], "nice": false}}}},
            {"data": {"name": "p4"}, "mark": {"type": "line", "strokeWidth": 4.5},
             "encoding": {
               "x": {"field": "t", "type": "quantitative", "title": null, "scale": {"domain": [2005, 2013.5], "nice": false, "zero": false}, "axis": {"values": [2005, 2006, 2007, 2008, 2009, 2010, 2011, 2012, 2013], "format": "d"}},
               "y": {"field": "v", "type": "quantitative", "title": null, "scale": {"domain": [-40, 40], "nice": false}, "axis": {"values": [-40, -30, -20, -10, 0, 10, 20, 30, 40]}},
               "color": {"field": "s", "type": "nominal", "scale": {"domain": ["Madera, papel y art. gráf.", "Caucho, plástico y otros no met.", "Alimentación", "Industria química"], "range": ["#2f6597", "#43b5d1", "#779a3a", "#5c4a7e"]},
                 "legend": {"title": null, "orient": "none", "legendX": 263, "legendY": 10, "symbolType": "M-5,0H5", "symbolSize": 121, "symbolStrokeWidth": 4, "labelFontSize": 14.8, "labelOffset": 23, "rowPadding": 0.8}}
             }}
          ]
        }
      ]
    }
  ]
}
